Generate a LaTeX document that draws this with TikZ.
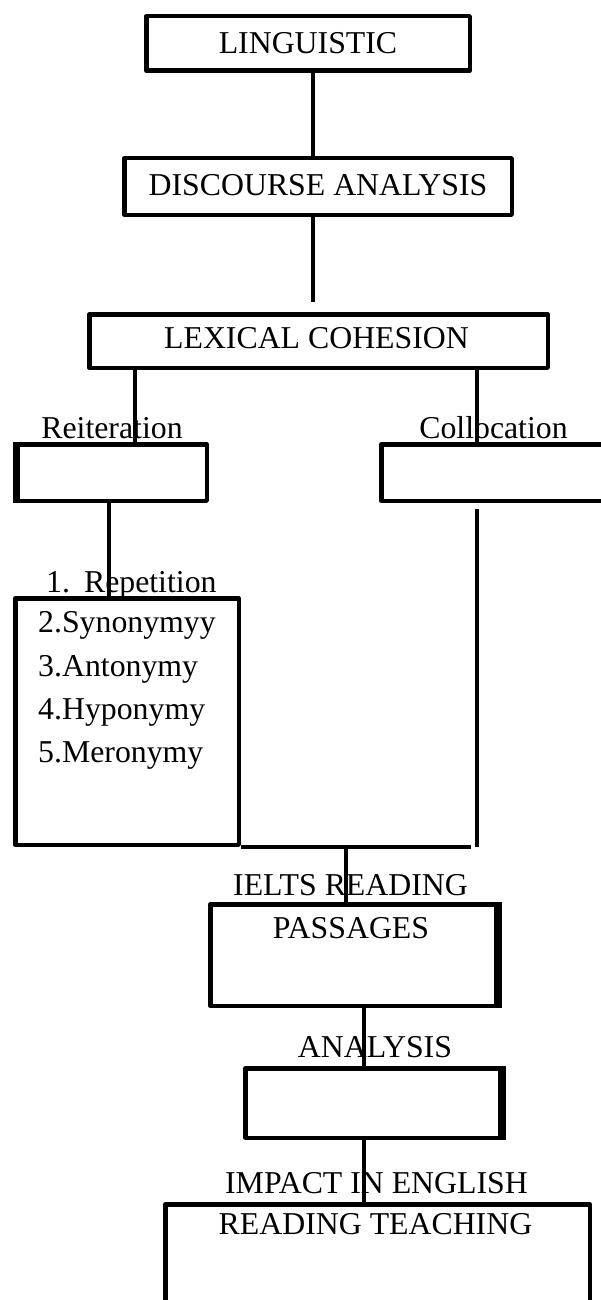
\documentclass[tikz,border=0pt]{standalone}
\usepackage{fontspec}
\setmainfont{Liberation Serif}
\begin{document}
\begin{tikzpicture}[x=1pt,y=-1pt,line join=round,
  txt/.style={inner sep=0pt,font=\fontsize{31.8}{38}\selectfont},
  box/.style={draw,line width=4.5pt,rectangle,inner sep=0pt},
  link/.style={draw,line width=4.5pt}]
\useasboundingbox (0,0) rectangle (601,1300);
\clip (0,0) rectangle (601,1300);
% texts
\node[txt,anchor=base] (lingt) at (308,54) {LINGUISTIC};
\node[txt,anchor=base] (disct) at (318,195) {DISCOURSE ANALYSIS};
\node[txt,anchor=base] (lext) at (316.5,348) {LEXICAL COHESION};
\node[txt,anchor=base] (reitt) at (112,438) {Reiteration};
\node[txt,anchor=base] (collt) at (493.5,438) {Collocation};
\node[txt,anchor=base west] (i1) at (46,592) {1.\hspace{14pt}Repetition};
\node[txt,anchor=base west] (i2) at (38,632) {2.Synonymyy};
\node[txt,anchor=base west] (i3) at (38,676) {3.Antonymy};
\node[txt,anchor=base west] (i4) at (38,719) {4.Hyponymy};
\node[txt,anchor=base west] (i5) at (38,762) {5.Meronymy};
\node[txt,anchor=base] (ieltst) at (350.5,895) {IELTS READING};
\node[txt,anchor=base] (passt) at (351,938) {PASSAGES};
\node[txt,anchor=base] (analt) at (375,1057) {ANALYSIS};
\node[txt,anchor=base] (impt) at (376.5,1193) {IMPACT IN ENGLISH};
\node[txt,anchor=base] (teacht) at (375.5,1234) {READING TEACHING};
% boxes
\node[box,minimum width=323.5pt,minimum height=54.5pt] (ling) at (308,43.5) {};
\node[box,minimum width=387.5pt,minimum height=56.5pt] (disc) at (318,186.5) {};
\node[box,minimum width=458.5pt,minimum height=53.5pt] (lex) at (318.5,341) {};
\node[box,minimum width=189.5pt,minimum height=56.5pt] (reit) at (112,472.5) {};
\node[box,minimum width=256.5pt,minimum height=56.5pt] (coll) at (509.5,472.5) {};
\node[box,minimum width=223.5pt,minimum height=246.5pt] (list) at (127,721.5) {};
\node[box,minimum width=287.5pt,minimum height=101.5pt] (pass) at (354,955) {};
\node[box,minimum width=256.5pt,minimum height=69.5pt] (anal) at (373.5,1103) {};
\node[box,minimum width=424.5pt,minimum height=193.5pt] (imp) at (377.5,1301) {};
% thicker edges
\draw[line width=7pt] ([xshift=1pt]reit.north west) -- ([xshift=1pt]reit.south west);
\draw[line width=8pt] ([xshift=-1.75pt]pass.north east) -- ([xshift=-1.75pt]pass.south east);
\draw[line width=8pt] ([xshift=-1.75pt]anal.north east) -- ([xshift=-1.75pt]anal.south east);
% connectors
\coordinate (discend) at (313,302);
\coordinate (collstart) at (477,509);
\coordinate (joinend) at (471,844);
\path[link] (ling.south -| 313,0) -- (disc.north -| 313,0);
\path[link] (disc.south -| discend) -- (discend);
\path[link] (lex.south -| 135,0) -- (reit.north -| 135,0);
\path[link] (lex.south -| 477,0) -- (coll.north -| 477,0);
\path[link] (reit.south -| 109,0) -- (list.north -| 109,0);
\path[link] (collstart) -- (list.south -| collstart);
\path[link] (list.south east) -- (list.south -| joinend);
\path[link] (list.south -| 346,0) -- (pass.north -| 346,0);
\path[link] (pass.south -| 364,0) -- (anal.north -| 364,0);
\path[link] (anal.south -| 364,0) -- (imp.north -| 364,0);
\end{tikzpicture}
\end{document}
